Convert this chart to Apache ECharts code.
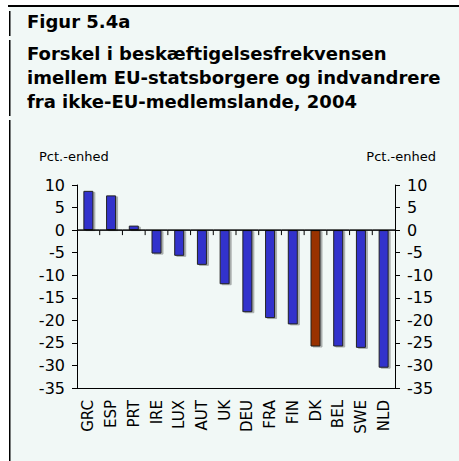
<!DOCTYPE html>
<html>
<head>
<meta charset="utf-8">
<script src="https://cdn.jsdelivr.net/npm/echarts@6/dist/echarts.min.js"></script>
<style>
  html, body { margin: 0; padding: 0; background: #fff; }
  #chart { width: 459px; height: 461px; }
  #err { position: absolute; left: 20px; top: 200px; width: 420px; color: red; font: 10px sans-serif; }
</style>
</head>
<body>
<div id="chart"></div>
<div id="err"></div>
<script>
window.addEventListener('error', function (ev) {
  document.getElementById('err').innerText += ' ' + ev.message
})

// lande, sorteret efter forskel
const countries = ['GRC', 'ESP', 'PRT', 'IRE', 'LUX', 'AUT', 'UK', 'DEU', 'FRA', 'FIN', 'DK', 'BEL', 'SWE', 'NLD']
const diffValues = [8.7, 7.7, 1.0, -5.2, -5.7, -7.7, -12.0, -18.2, -19.5, -20.9, -25.8, -25.8, -26.1, -30.5]
const highlight = 'DK'
const titleLines = ['Figur 5.4a', 'Forskel i beskæftigelsesfrekvensen', 'imellem EU-statsborgere og indvandrere', 'fra ikke-EU-medlemslande, 2004']
const unitLabel = 'Pct.-enhed'
const yMin = -35
const yMax = 10

const FONT = 'DejaVu Sans'
const BLUE = '#3333cc'
const RED = '#993300'
const TITLE_FONT = 'bold 18px "DejaVu Sans"'

let chart = echarts.init(document.getElementById('chart'), null, { renderer: 'svg' })

let barData = diffValues.map((v, i) => ({
  value: v,
  itemStyle: { color: countries[i] === highlight ? RED : BLUE }
}))

let yAxisBase = {
  type: 'value',
  min: yMin,
  max: yMax,
  interval: 5,
  splitLine: { show: false },
  axisLine: { show: true, lineStyle: { color: '#000', width: 1 } },
  axisTick: { show: true, length: 5, lineStyle: { color: '#000' } },
  axisLabel: { color: '#000', fontFamily: FONT, fontSize: 16, margin: 12 }
}

// nul-linjen med små streger mellem landene
function renderZeroLine(params, api) {
  let idx = api.value(0)
  let p = api.coord([idx, 0])
  let bw = api.size([1, 0])[0]
  let x0 = p[0] - bw / 2
  let x1 = p[0] + bw / 2
  let children = [
    { type: 'line', shape: { x1: x0, y1: p[1], x2: x1, y2: p[1] }, style: { stroke: '#000', lineWidth: 1.5 } }
  ]
  if (idx > 0) {
    children.push({ type: 'line', shape: { x1: x0, y1: p[1], x2: x0, y2: p[1] + 5 }, style: { stroke: '#000', lineWidth: 1 } })
  }
  return { type: 'group', children: children }
}

let option = {
  backgroundColor: '#f1f8f6',
  animation: false,
  graphic: [
    // hvid kant til venstre og foroven
    { type: 'rect', shape: { x: 0, y: 0, width: 9, height: 461 }, style: { fill: '#fff' } },
    { type: 'rect', shape: { x: 0, y: 0, width: 459, height: 5 }, style: { fill: '#fff' } },
    { type: 'rect', shape: { x: 8, y: 5, width: 451, height: 2 }, style: { fill: '#000' } },
    { type: 'rect', shape: { x: 9, y: 11, width: 1.5, height: 25 }, style: { fill: '#000' } },
    { type: 'rect', shape: { x: 9, y: 40, width: 1.5, height: 76 }, style: { fill: '#000' } },
    { type: 'rect', shape: { x: 9, y: 120, width: 1.5, height: 341 }, style: { fill: '#000' } },
    { type: 'text', left: 27, top: 12, style: { text: titleLines[0], font: TITLE_FONT, fill: '#000' } },
    { type: 'text', left: 27, top: 44, style: { text: titleLines[1], font: TITLE_FONT, fill: '#000' } },
    { type: 'text', left: 27, top: 68, style: { text: titleLines[2], font: TITLE_FONT, fill: '#000' } },
    { type: 'text', left: 27, top: 92, style: { text: titleLines[3], font: TITLE_FONT, fill: '#000' } },
    { type: 'text', left: 39, top: 150, style: { text: unitLabel, font: '13px "DejaVu Sans"', fill: '#000' } },
    { type: 'text', right: 23, top: 150, style: { text: unitLabel, font: '13px "DejaVu Sans"', fill: '#000' } }
  ],
  grid: { left: 77, right: 64, top: 185, bottom: 73, containLabel: false },
  xAxis: {
    type: 'category',
    data: countries,
    position: 'bottom',
    axisLine: { show: true, onZero: false, lineStyle: { color: '#000', width: 1 } },
    axisTick: { show: false },
    axisLabel: { rotate: 90, color: '#000', fontFamily: FONT, fontSize: 15, margin: 12, interval: 0 }
  },
  yAxis: [
    Object.assign({}, yAxisBase, { position: 'left' }),
    Object.assign({}, yAxisBase, { position: 'right' })
  ],
  series: [
    {
      type: 'bar',
      data: barData,
      barWidth: '44%',
      itemStyle: {
        borderColor: '#222',
        borderWidth: 1,
        shadowColor: 'rgba(0,0,0,0.3)',
        shadowOffsetX: 2,
        shadowOffsetY: 1,
        shadowBlur: 0
      }
    },
    {
      type: 'custom',
      data: countries.map(c => [c, 0]),
      renderItem: renderZeroLine,
      silent: true,
      z: 5
    }
  ]
}

try {
  chart.setOption(option)
  chart.getZr().refreshImmediately()
} catch (e) {
  document.getElementById('err').innerText = String(e && e.stack || e)
}
window.onresize = function () {
  chart.resize()
}
</script>
</body>
</html>
